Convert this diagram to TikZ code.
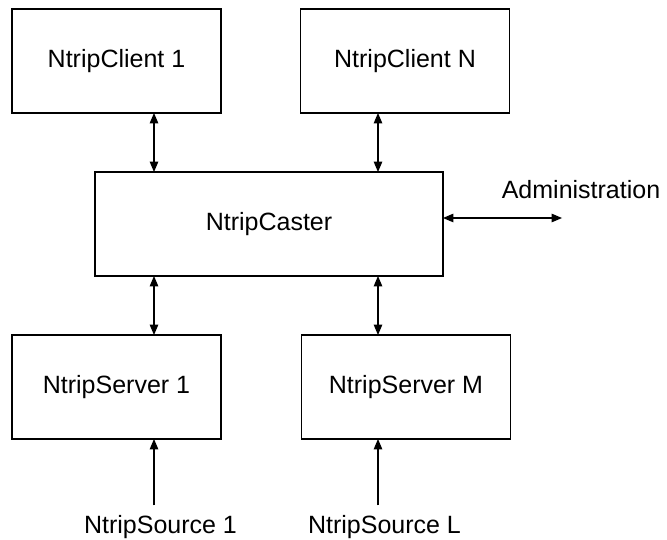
\documentclass[tikz,border=0pt]{standalone}
\usepackage{fontspec}
\setmainfont{Liberation Sans}
\usetikzlibrary{arrows,positioning}

\begin{document}
\begin{tikzpicture}[x=1pt,y=-1pt,on grid,>=triangle 45,
        font=\fontsize{25}{30}\selectfont,
        box/.style={draw,line width=1.2pt,minimum width=209pt,minimum height=104pt,inner sep=0pt,outer sep=0pt},
        lbl/.style={inner sep=0pt,outer sep=0pt},
        link/.style={line width=1.4pt}]
        \useasboundingbox (0,0) rectangle (667,540);
        \node[box] (client1) at (116.5,61) {NtripClient 1};
        \node[box] (clientN) [right=288.5pt of client1] {NtripClient N};
        \node[box, minimum width=348pt] (caster) [below right=163pt and 152.5pt of client1] {NtripCaster};
        \node[box] (server1) [below=326pt of client1] {NtripServer 1};
        \node[box] (serverM) [right=289.5pt of server1] {NtripServer M};
        \node[lbl] (src1) [below right=140pt and 44pt of server1] {NtripSource 1};
        \node[lbl] (srcL) [right=224pt of src1] {NtripSource L};
        \node[lbl] (admin) [above right=34pt and 312pt of caster] {Administration};
        \coordinate (a1) at (154,0);
        \coordinate (aN) at (378,0);
        \coordinate (adminEnd) at (562,218);
        \draw[link,<->] (client1.south -| a1) -- (caster.north -| a1);
        \draw[link,<->] (clientN.south -| aN) -- (caster.north -| aN);
        \draw[link,<->] (caster.south -| a1) -- (server1.north -| a1);
        \draw[link,<->] (caster.south -| aN) -- (serverM.north -| aN);
        \draw[link,<->] (caster.east |- adminEnd) -- (adminEnd);
        \draw[link,->,shorten <=10pt] (src1.north -| a1) -- (server1.south -| a1);
        \draw[link,->,shorten <=10pt] (srcL.north -| aN) -- (serverM.south -| aN);
\end{tikzpicture}
\end{document}
